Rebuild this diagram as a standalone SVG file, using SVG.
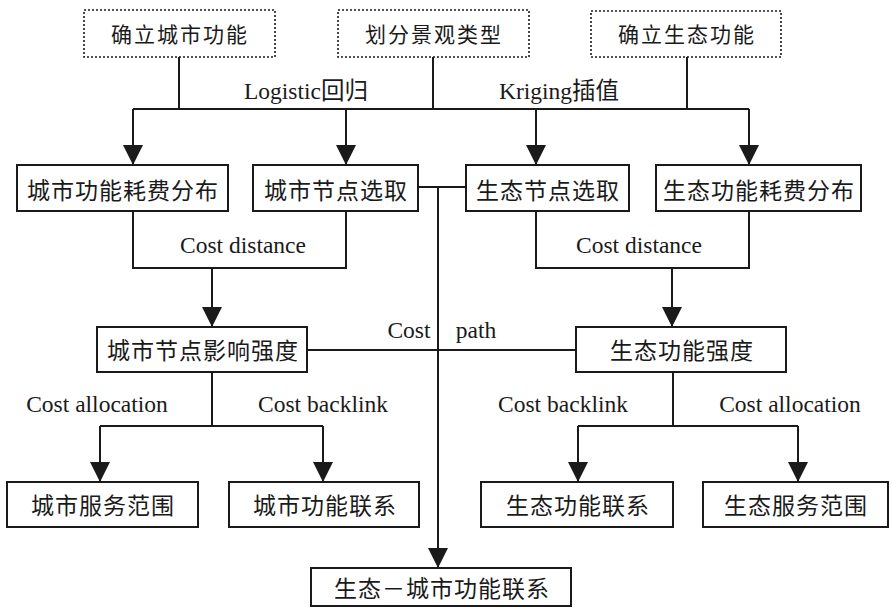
<svg xmlns="http://www.w3.org/2000/svg" width="892" height="609" viewBox="0 0 892 609">
<defs>
<marker id="arr" viewBox="0 0 20 20" markerWidth="20" markerHeight="20" refX="20" refY="10" orient="auto" markerUnits="userSpaceOnUse">
<path d="M0,0 L20,10 L0,20 z" fill="#1a1a1a"/>
</marker>
<style>
.box{fill:#fff;stroke:#1a1a1a;stroke-width:2}
.dot{fill:#fff;stroke:#1a1a1a;stroke-width:1.6;stroke-dasharray:2 2}
.cn{font-family:"Noto Sans CJK SC","Noto Sans",sans-serif;font-size:23px;fill:#1a1a1a;text-anchor:middle;letter-spacing:1px}
.cn1{font-family:"Noto Sans CJK SC","Noto Sans",sans-serif;font-size:21px;fill:#1a1a1a;text-anchor:middle;letter-spacing:2px}
.en{font-family:"Liberation Serif","Noto Sans CJK SC",serif;font-size:23.5px;fill:#1a1a1a;text-anchor:middle}
.ln{fill:none;stroke:#1a1a1a;stroke-width:2}
.ar{fill:none;stroke:#1a1a1a;stroke-width:2;marker-end:url(#arr)}
</style>
</defs>
<rect width="892" height="609" fill="#fff"/>
<g id="connectors">
<path class="ln" d="M179,57 V109 M433,57 V109 M687,57 V109 M133,109 H749"/>
<path class="ar" d="M133,109 V165"/>
<path class="ar" d="M346,109 V165"/>
<path class="ar" d="M536,109 V165"/>
<path class="ar" d="M749,109 V165"/>
<path class="ln" d="M133,211 V268 H346 V211"/>
<path class="ar" d="M212,268 V327"/>
<path class="ln" d="M536,211 V268 H749 V211"/>
<path class="ar" d="M672,268 V327"/>
<path class="ln" d="M418,187 H466"/>
<path class="ar" d="M438,187 V568"/>
<path class="ln" d="M307,350 H576"/>
<path class="ln" d="M212,372 V426 M100,426 H323"/>
<path class="ar" d="M100,426 V482"/>
<path class="ar" d="M323,426 V482"/>
<path class="ln" d="M673,372 V426 M578,426 H798"/>
<path class="ar" d="M578,426 V482"/>
<path class="ar" d="M798,426 V482"/>
<text class="en" x="306" y="99">Logistic回归</text>
<text class="en" x="559" y="99">Kriging插值</text>
<text class="en" x="243" y="253">Cost distance</text>
<text class="en" x="639" y="253">Cost distance</text>
<text class="en" x="409" y="338">Cost</text>
<text class="en" x="476" y="338">path</text>
<text class="en" x="97" y="412">Cost allocation</text>
<text class="en" x="323" y="412">Cost backlink</text>
<text class="en" x="563" y="412">Cost backlink</text>
<text class="en" x="790" y="412">Cost allocation</text>
</g>
<g id="n1"><rect class="dot" x="84" y="10" width="191" height="47"/><text class="cn1" x="180" y="42">确立城市功能</text></g>
<g id="n2"><rect class="dot" x="338" y="10" width="191" height="47"/><text class="cn1" x="434" y="42">划分景观类型</text></g>
<g id="n3"><rect class="dot" x="591" y="11" width="190" height="46"/><text class="cn1" x="687" y="42">确立生态功能</text></g>
<g id="n4"><rect class="box" x="17" y="165" width="211" height="46"/><text class="cn" x="123" y="199">城市功能耗费分布</text></g>
<g id="n5"><rect class="box" x="253" y="165" width="165" height="46"/><text class="cn" x="336" y="199">城市节点选取</text></g>
<g id="n6"><rect class="box" x="466" y="165" width="163" height="46"/><text class="cn" x="548" y="199">生态节点选取</text></g>
<g id="n7"><rect class="box" x="656" y="165" width="205" height="46"/><text class="cn" x="759" y="199">生态功能耗费分布</text></g>
<g id="n8"><rect class="box" x="97" y="327" width="210" height="45"/><text class="cn" x="203" y="359">城市节点影响强度</text></g>
<g id="n9"><rect class="box" x="576" y="327" width="210" height="45"/><text class="cn" x="682" y="359">生态功能强度</text></g>
<g id="n10"><rect class="box" x="7" y="482" width="191" height="45"/><text class="cn" x="103" y="514">城市服务范围</text></g>
<g id="n11"><rect class="box" x="229" y="482" width="190" height="45"/><text class="cn" x="325" y="514">城市功能联系</text></g>
<g id="n12"><rect class="box" x="481" y="482" width="192" height="45"/><text class="cn" x="578" y="514">生态功能联系</text></g>
<g id="n13"><rect class="box" x="703" y="482" width="185" height="45"/><text class="cn" x="796" y="514">生态服务范围</text></g>
<g id="n14"><rect class="box" x="311" y="568" width="260" height="38"/><text class="cn" x="442" y="597">生态－城市功能联系</text></g>
</svg>
